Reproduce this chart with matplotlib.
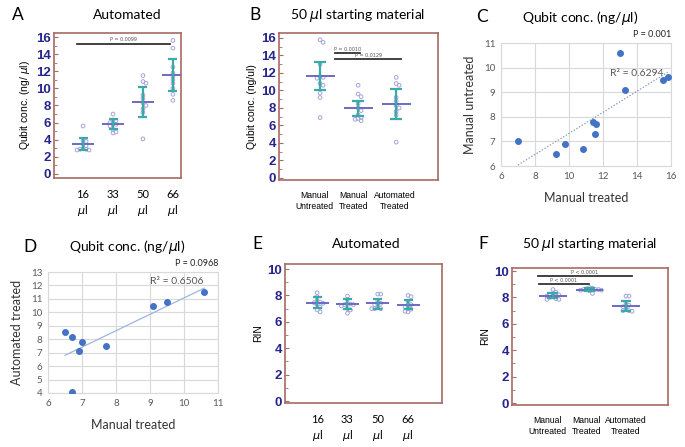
import matplotlib
matplotlib.use("Agg")
import matplotlib.pyplot as plt
import numpy as np

# data #
########

vol_labels = ["16\n$\\mu$l", "33\n$\\mu$l", "50\n$\\mu$l", "66\n$\\mu$l"]
method_labels = ["Manual\nUntreated", "Manual\nTreated", "Automated\nTreated"]

# A: qubit conc. automated, by input volume
a16 = [5.6, 3.9, 3.8, 3.5, 3.3, 3.0, 2.9, 2.9, 2.8, 2.8]
a33 = [7.0, 6.3, 6.2, 6.0, 5.9, 5.8, 5.6, 5.2, 4.9, 4.8]
a50 = [11.5, 10.8, 10.6, 9.2, 8.8, 8.3, 8.0, 7.6, 7.2, 4.1]
a66 = [15.6, 14.7, 12.5, 11.8, 11.4, 11.0, 10.6, 10.0, 9.3, 8.6]
a_mean = [3.5, 5.85, 8.45, 11.6]
a_lo = [2.85, 5.3, 6.7, 9.7]
a_hi = [4.2, 6.4, 10.2, 13.45]

# B: qubit conc. 50 ul starting material
b_mu = [15.8, 15.5, 13.0, 11.6, 11.5, 11.4, 10.8, 10.6, 9.7, 9.2, 6.9]
b_mt = [10.6, 9.6, 9.3, 8.5, 8.0, 7.7, 7.2, 6.9, 6.8, 6.7, 6.55]
b_at = a50
b_mean = [11.6, 7.95, 8.45]
b_lo = [10.05, 7.1, 6.75]
b_hi = [13.25, 8.85, 10.2]

# C: manual treated vs manual untreated
c_x = [7.0, 9.25, 9.75, 10.8, 11.4, 11.6, 11.55, 13.0, 13.3, 15.5, 15.8]
c_y = [7.0, 6.5, 6.9, 6.7, 7.8, 7.7, 7.3, 10.6, 9.1, 9.5, 9.6]

# D: manual treated vs automated treated
d_x = [6.5, 6.7, 7.0, 6.9, 7.7, 6.7, 9.1, 9.5, 10.6]
d_y = [8.55, 8.2, 7.8, 7.15, 7.5, 4.1, 10.5, 10.8, 11.5]

# E: RIN automated, by input volume
e16 = [8.2, 7.9, 7.6, 7.5, 7.45, 7.4, 7.3, 7.1, 6.9, 6.75]
e33 = [7.95, 7.7, 7.4, 7.35, 7.3, 7.3, 7.2, 7.0, 6.9, 6.65]
e50 = [8.1, 8.1, 7.6, 7.4, 7.35, 7.3, 7.1, 7.0, 7.0, 7.0]
e66 = [8.0, 7.9, 7.5, 7.3, 7.25, 7.1, 7.0, 6.95, 6.8, 6.75]
e_mean = [7.45, 7.35, 7.4, 7.3]
e_lo = [7.05, 7.0, 7.0, 6.95]
e_hi = [7.85, 7.7, 7.75, 7.65]

# F: RIN 50 ul starting material
f_mu = [8.6, 8.4, 8.3, 8.25, 8.2, 8.15, 8.1, 8.05, 8.0, 7.9, 7.85, 7.85]
f_mt = [8.75, 8.7, 8.65, 8.6, 8.6, 8.6, 8.55, 8.55, 8.5, 8.3]
f_at = [8.1, 8.1, 7.6, 7.4, 7.35, 7.3, 7.1, 7.0, 7.0, 6.95]
f_mean = [8.13, 8.6, 7.35]
f_lo = [7.95, 8.5, 7.0]
f_hi = [8.35, 8.7, 7.7]

# significance bars: (x0, x1, y, label)
a_sig = [(-0.2, 2.9, 15.2, "P = 0.0099")]
b_sig = [(0.39, 1.05, 14.25, "P = 0.0010"), (0.39, 2.13, 13.55, "P = 0.0129")]
f_sig = [(-0.41, 2.16, 9.6, "P < 0.0001"), (-0.38, 0.99, 9.0, "P < 0.0001")]

# style #
#########

W, H = 685, 447
FRAME = "#A86A64"
NAVY = "#25258C"
DOT = "#A4A4DA"
MEANC = "#6A6AC6"
ERRC = "#3AAAA6"
XLBLUE = "#4472C4"
GRID = "#D9D9D9"
GTXT = "#595959"
TITLE_FONT = ["Lato", "DejaVu Sans"]
ARIAL = ["Liberation Sans", "DejaVu Sans"]

plt.rcParams["mathtext.fontset"] = "dejavusans"

fig = plt.figure(figsize=(W / 100, H / 100), dpi=100)


def px_axes(l, t, r, b):
    return fig.add_axes([l / W, 1 - b / H, (r - l) / W, (b - t) / H])


def px_text(x, y, s, **kw):
    fig.text(x / W, 1 - y / H, s, **kw)


def swarm(ax, x0, vals, size_px=3.0):
    # simple non-overlapping placement in pixel space
    placed = []
    offs = []
    inv = ax.transData.inverted()
    step = inv.transform([[size_px, 0]])[0][0] - inv.transform([[0, 0]])[0][0]
    for v in vals:
        yp = ax.transData.transform([[x0, v]])[0][1]
        k = 0
        while True:
            cand = 0 if k == 0 else ((k + 1) // 2) * (1 if k % 2 else -1)
            xp = ax.transData.transform([[x0 + cand * step, v]])[0][0]
            if all((xp - px) ** 2 + (yp - py) ** 2 >= size_px ** 2 for px, py in placed):
                break
            k += 1
        placed.append((xp, yp))
        offs.append(x0 + cand * step)
    return offs


def dotplot(ax, groups, means, lo, hi, xlim, ylim, yticks, labels, ylabel,
            sig=(), lab_pos=None, lab_size=8, lab_font=TITLE_FONT,
            mw=0.38, cw=0.15):
    ax.set_xlim(*xlim)
    ax.set_ylim(*ylim)
    for s in ax.spines.values():
        s.set_color(FRAME)
        s.set_linewidth(1.2)
    xs = np.arange(len(groups))
    for i, vals in enumerate(groups):
        ax.scatter(swarm(ax, i, vals), vals, s=7, facecolors="none",
                   edgecolors=DOT, linewidths=0.7, zorder=3)
    ax.hlines(means, xs - mw, xs + mw, color=MEANC, lw=1.4, zorder=4)
    ax.vlines(xs, lo, hi, color=ERRC, lw=1.6, zorder=4)
    ax.hlines(lo, xs - cw, xs + cw, color=ERRC, lw=1.6, zorder=4)
    ax.hlines(hi, xs - cw, xs + cw, color=ERRC, lw=1.6, zorder=4)
    for x0, x1, y, txt in sig:
        ax.plot([x0, x1], [y, y], color="#333333", lw=1.3)
        ax.text((x0 + x1) / 2, y + 0.012 * (ylim[1] - ylim[0]), txt,
                ha="center", va="bottom", fontsize=3.5, color="#555555")
    ax.set_yticks(yticks)
    ax.set_yticks(np.arange(yticks[0], yticks[-1] + 0.5, 1), minor=True)
    ax.tick_params(axis="y", which="both", direction="in", color=FRAME,
                   labelcolor=NAVY, labelsize=9.5, pad=2)
    ax.tick_params(axis="y", which="major", length=3)
    ax.tick_params(axis="y", which="minor", length=2)
    for t in ax.get_yticklabels():
        t.set_fontweight("bold")
        t.set_family(ARIAL)
    ax.set_xticks(xs if lab_pos is None else lab_pos)
    ax.set_xticklabels(labels, fontsize=lab_size, family=lab_font,
                       linespacing=1.3)
    ax.tick_params(axis="x", length=0, pad=8)
    ax.set_ylabel(ylabel, fontsize=7.5, family=ARIAL, labelpad=3)


def excel_scatter(ax, x, y, xlim, ylim, xticks, yticks, xlabel, ylabel,
                  r2, r2pos, ptxt, dotted):
    ax.set_xlim(*xlim)
    ax.set_ylim(*ylim)
    ax.set_xticks(xticks)
    ax.set_yticks(yticks)
    ax.grid(True, color=GRID, lw=0.8)
    ax.set_axisbelow(True)
    for s in ax.spines.values():
        s.set_color(GRID)
        s.set_linewidth(0.8)
    ax.tick_params(length=0, labelsize=7, labelcolor=GTXT, pad=4)
    for t in ax.get_xticklabels() + ax.get_yticklabels():
        t.set_family(TITLE_FONT)
    k, b = np.polyfit(x, y, 1)
    xx = np.array([min(x), max(x)])
    if dotted:
        ax.plot(xx, k * xx + b, color="#7F95B8", lw=0.9, ls=(0, (1, 1.5)))
    else:
        ax.plot(xx, k * xx + b, color="#9DB5E0", lw=0.9)
    ax.scatter(x, y, s=16, color=XLBLUE, zorder=3)
    ax.text(r2pos[0], r2pos[1], r2, fontsize=7.5, color=GTXT,
            family=TITLE_FONT, ha="center", va="center")
    ax.text(1.0, 1.03, ptxt, transform=ax.transAxes, fontsize=6.5,
            color="#222222", ha="right", va="bottom", family=TITLE_FONT)
    ax.set_xlabel(xlabel, fontsize=9, family=TITLE_FONT, color="#333333",
                  labelpad=8)
    ax.set_ylabel(ylabel, fontsize=9, family=TITLE_FONT, color="#333333",
                  labelpad=6)


# A #
axA = px_axes(54, 33, 181, 178)
dotplot(axA, [a16, a33, a50, a66], a_mean, a_lo, a_hi, (-0.97, 3.27),
        (-0.47, 16.47), np.arange(0, 17, 2), vol_labels,
        "Qubit conc. (ng/ $\\mu$l)", sig=a_sig)

# B #
axB = px_axes(279, 33, 438, 180)
dotplot(axB, [b_mu, b_mt, b_at], b_mean, b_lo, b_hi, (-1.08, 3.1),
        (-0.23, 16.57), np.arange(0, 17, 2), method_labels,
        "Qubit conc. (ng/ul)", sig=b_sig, lab_pos=[-0.16, 0.89, 1.97],
        lab_size=6.2, lab_font=ARIAL)

# C #
axC = px_axes(501, 43, 671, 166)
excel_scatter(axC, c_x, c_y, (6, 16), (6, 11), np.arange(6, 17, 2),
              np.arange(6, 12, 1), "Manual treated", "Manual untreated",
              "R² = 0.6294", (14.0, 9.78), "P = 0.001", True)

# D #
axD = px_axes(48, 272, 218, 393)
excel_scatter(axD, d_x, d_y, (6, 11), (4, 13), np.arange(6, 12, 1),
              np.arange(4, 14, 1), "Manual treated", "Automated treated",
              "R² = 0.6506", (9.8, 12.33), "P = 0.0968", False)

# E #
axE = px_axes(285, 264, 442, 403)
dotplot(axE, [e16, e33, e50, e66], e_mean, e_lo, e_hi, (-1.06, 4.12),
        (-0.15, 10.38), np.arange(0, 11, 2), vol_labels, "RIN")

# F #
axF = px_axes(512, 268, 668, 405)
dotplot(axF, [f_mu, f_mt, f_at], f_mean, f_lo, f_hi, (-1.12, 3.15),
        (-0.15, 10.23), np.arange(0, 11, 2), method_labels, "RIN",
        sig=f_sig, lab_pos=[-0.14, 0.92, 2.0], lab_size=6.2, lab_font=ARIAL)

# panel letters and titles #
letters = [("A", 18, 15), ("B", 255, 15), ("C", 482, 17),
           ("D", 30, 247), ("E", 257, 244), ("F", 483, 244)]
for s, x, y in letters:
    px_text(x, y, s, fontsize=12.5, family=TITLE_FONT, ha="center", va="center")

titles = [("Automated", 127, 15), ("50 $\\mu$l starting material", 358, 15),
          ("Qubit conc. (ng/$\\mu$l)", 580, 18),
          ("Qubit conc. (ng/$\\mu$l)", 127, 247), ("Automated", 366, 244),
          ("50 $\\mu$l starting material", 590, 245)]
for s, x, y in titles:
    px_text(x, y, s, fontsize=10, family=TITLE_FONT, ha="center", va="center")

fig.savefig("out.png", dpi=100)
